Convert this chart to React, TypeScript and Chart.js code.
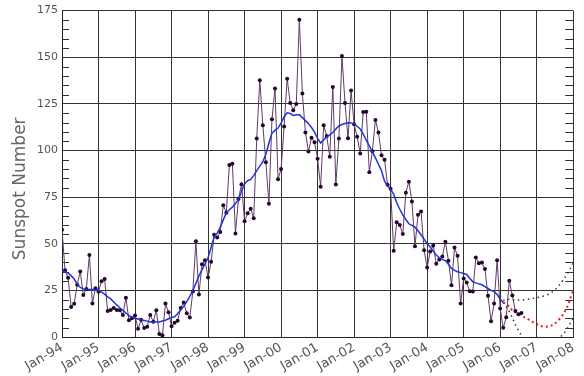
import React, { useEffect, useRef } from 'react';
import { Chart, registerables } from 'chart.js';

Chart.register(...registerables);

// Tick labels, one per January (x unit = months since Jan-94)
const tickLabels = [
  'Jan-94', 'Jan-95', 'Jan-96', 'Jan-97', 'Jan-98', 'Jan-99', 'Jan-00', 'Jan-01',
  'Jan-02', 'Jan-03', 'Jan-04', 'Jan-05', 'Jan-06', 'Jan-07', 'Jan-08',
];
const yTitle = 'Sunspot Number';

// Monthly sunspot numbers, Jan 1994 .. Aug 2006
const monthly = [
  57.5, 35.8, 31.7, 16.1, 17.8, 28.0, 35.1, 22.5, 25.7, 44.0, 18.0, 26.2,
  24.2, 29.9, 31.1, 14.0, 14.5, 15.6, 14.5, 14.3, 11.8, 21.1, 9.0, 10.0,
  11.5, 4.4, 9.2, 4.8, 5.5, 11.8, 8.2, 14.4, 1.6, 0.9, 17.9, 13.3,
  5.7, 7.6, 8.7, 15.5, 18.5, 12.7, 10.4, 24.4, 51.3, 22.8, 39.0, 41.2,
  31.9, 40.3, 54.8, 53.4, 56.3, 70.7, 66.6, 92.2, 92.9, 55.5, 74.0, 81.9,
  62.0, 66.3, 68.8, 63.7, 106.4, 137.7, 113.5, 93.7, 71.5, 116.7, 133.2, 84.6,
  90.1, 112.9, 138.5, 125.5, 121.6, 124.9, 170.1, 130.5, 109.7, 99.4, 106.8, 104.4,
  95.6, 80.6, 113.5, 107.7, 96.6, 134.0, 81.8, 106.4, 150.7, 125.5, 106.5, 132.2,
  114.1, 107.4, 98.4, 120.7, 120.8, 88.3, 99.6, 116.4, 109.6, 97.5, 95.0, 81.6,
  79.5, 46.2, 61.5, 60.0, 55.2, 77.4, 83.3, 72.7, 48.7, 65.5, 67.3, 46.5,
  37.3, 45.8, 49.1, 39.3, 41.5, 43.2, 51.1, 40.9, 27.7, 48.0, 43.5, 17.9,
  31.3, 29.2, 24.5, 24.4, 42.6, 39.6, 39.9, 36.4, 22.1, 8.5, 18.0, 41.2,
  15.3, 4.9, 10.6, 30.2, 22.3, 13.9, 12.2, 12.9,
];

// Smoothed sunspot number, Jan 1994 .. Feb 2006
const smoothed = [
  35.4, 35.1, 34.2, 32.9, 31.1, 28.5, 26.6, 25.8, 25.5, 25.5, 25.5, 25.3,
  25.1, 24.0, 23.0, 21.5, 20.4, 18.8, 17.2, 15.7, 14.3, 12.9, 11.4, 10.6,
  10.0, 9.7, 9.3, 8.9, 8.5, 8.1, 8.0, 8.0, 8.1, 8.6, 9.0, 9.8,
  10.5, 10.8, 12.5, 14.5, 16.4, 19.0, 21.8, 24.8, 28.8, 32.7, 36.0, 39.2,
  42.5, 48.0, 53.6, 55.7, 58.8, 62.8, 66.5, 68.2, 69.6, 71.6, 73.6, 78.0,
  82.0, 83.8, 84.5, 86.5, 89.2, 91.6, 94.0, 98.0, 104.0, 109.3, 110.8, 112.0,
  114.7, 118.1, 120.2, 119.8, 118.8, 119.2, 119.2, 117.6, 116.0, 114.3, 112.3, 109.8,
  106.5, 104.0, 105.8, 107.3, 108.3, 109.6, 111.5, 113.2, 113.9, 114.5, 114.9, 114.8,
  114.3, 113.0, 111.5, 108.8, 105.5, 102.5, 99.3, 96.0, 92.6, 89.2, 83.5, 81.0,
  79.3, 76.5, 72.0, 68.5, 65.5, 63.0, 60.7, 59.8, 58.9, 57.0, 54.8, 52.5,
  50.0, 48.3, 46.0, 44.0, 42.5, 41.5, 41.0, 39.0, 36.8, 35.7, 35.0, 34.5,
  34.0, 33.5, 31.5, 29.6, 29.0, 28.5, 28.0, 27.0, 26.0, 25.0, 24.3, 22.8,
  20.3, 18.5,
];

// Forecast, Feb 2006 .. Jan 2008
const forecastStart = 145;
const predicted = [
  18.5, 17.8, 16.0, 14.3, 13.3, 12.2, 11.8, 10.5, 9.7, 8.7, 7.8, 7.0,
  6.1, 5.6, 5.5, 5.7, 6.2, 7.2, 8.8, 10.5, 13.0, 16.0, 20.5, 25.0,
];
const upperBound = [
  19.5, 20.3, 20.1, 19.9, 19.8, 19.8, 19.9, 20.0, 20.2, 20.5, 20.8, 21.1,
  21.4, 21.8, 22.3, 23.0, 24.0, 25.3, 27.0, 29.0, 31.3, 33.8, 36.6, 39.5,
];
const lowerBound = [
  18.5, 16.2, 13.6, 10.3, 6.5, 3.5, 0.8, null, null, null, null, null,
  null, null, null, null, null, null, null, 0.3, 2.0, 4.5, 7.3, 10.0,
];

const toPoints = (vals: (number | null)[], start: number) =>
  vals.map((v, i) => ({ x: start + i, y: v }));

const minorTicks = {
  id: 'minorTicks',
  beforeDatasetsDraw(chart: any) {
    const ctx = chart.ctx;
    const ys = chart.scales.y;
    const { left, right } = chart.chartArea;
    ctx.save();
    ctx.strokeStyle = '#333';
    ctx.lineWidth = 1;
    ctx.beginPath();
    for (let v = 5; v < 175; v += 5) {
      if (v % 25 === 0) continue;
      const py = Math.round(ys.getPixelForValue(v)) + 0.5;
      ctx.moveTo(left, py);
      ctx.lineTo(left + 7, py);
      ctx.moveTo(right, py);
      ctx.lineTo(right - 8, py);
    }
    ctx.stroke();
    ctx.restore();
  },
};

const yTitlePlugin = {
  id: 'yTitle',
  afterDraw(chart: any) {
    const ctx = chart.ctx;
    const { top, bottom } = chart.chartArea;
    ctx.save();
    ctx.translate(21, (top + bottom) / 2 + 15);
    ctx.rotate(-Math.PI / 2);
    ctx.fillStyle = '#666';
    ctx.font = '17px "DejaVu Sans"';
    ctx.textAlign = 'center';
    ctx.textBaseline = 'middle';
    ctx.fillText(yTitle, 0, 0);
    ctx.restore();
  },
};

export default function App() {
  const ref = useRef<HTMLCanvasElement>(null);
  useEffect(() => {
    document.body.style.margin = '0';
    const canvas = ref.current!;
    const chart = new Chart(canvas, {
      type: 'line',
      data: {
        datasets: [
          {
            label: 'Smoothed',
            data: toPoints(smoothed, 0),
            borderColor: '#1f33d6',
            borderWidth: 1.5,
            pointRadius: 0,
            tension: 0,
          },
          {
            label: 'Monthly',
            data: toPoints(monthly, 0),
            borderColor: '#5e3c66',
            borderWidth: 1,
            pointRadius: 2,
            pointBackgroundColor: '#26062c',
            pointBorderWidth: 0,
            tension: 0,
          },
          {
            label: 'Predicted',
            data: toPoints(predicted, forecastStart),
            borderColor: '#e02020',
            borderWidth: 2,
            borderDash: [2, 3],
            pointRadius: 0,
            tension: 0.3,
          },
          {
            label: 'Upper',
            data: toPoints(upperBound, forecastStart),
            borderColor: '#333',
            borderWidth: 1.5,
            borderDash: [1.5, 3.5],
            pointRadius: 0,
            tension: 0.3,
          },
          {
            label: 'Lower',
            data: toPoints(lowerBound, forecastStart),
            borderColor: '#333',
            borderWidth: 1.5,
            borderDash: [1.5, 3.5],
            pointRadius: 0,
            tension: 0.3,
            spanGaps: false,
          },
        ],
      },
      options: {
        responsive: false,
        animation: false,
        devicePixelRatio: 1,
        layout: { padding: { top: 9, right: 8, left: 0, bottom: 0 } },
        plugins: { legend: { display: false }, tooltip: { enabled: false } },
        scales: {
          x: {
            type: 'linear',
            min: 0,
            max: 168,
            ticks: {
              stepSize: 12,
              autoSkip: false,
              minRotation: 30,
              maxRotation: 30,
              color: '#555',
              padding: 3,
              font: { family: 'DejaVu Sans', size: 13 },
              callback: (v: any) => tickLabels[Math.round(Number(v) / 12)],
            },
            grid: { color: '#333', lineWidth: 1, drawTicks: false },
            border: { color: '#222', width: 1 },
            afterFit: (s: any) => {
              s.height = 39;
            },
          },
          y: {
            min: 0,
            max: 175,
            ticks: {
              stepSize: 25,
              color: '#555',
              padding: 4,
              font: { family: 'DejaVu Sans', size: 11 },
            },
            grid: { color: '#333', lineWidth: 1, drawTicks: false },
            border: { color: '#222', width: 1 },
            afterFit: (s: any) => {
              s.width = 62;
            },
          },
        },
      } as any,
      plugins: [minorTicks, yTitlePlugin],
    });
    return () => chart.destroy();
  }, []);
  return (
    <div style={{ width: 584, height: 376, background: '#fff' }}>
      <canvas ref={ref} width={584} height={376} style={{ display: 'block' }} />
    </div>
  );
}
